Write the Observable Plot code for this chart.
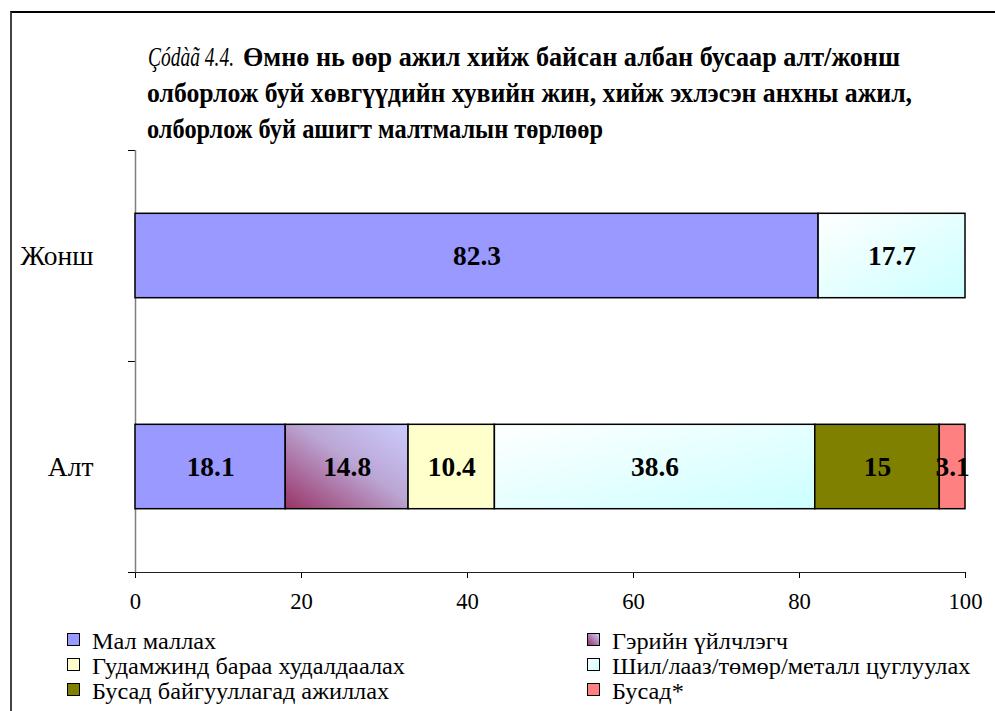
<!DOCTYPE html>
<html>
<head>
<meta charset="utf-8">
<script src="https://cdn.jsdelivr.net/npm/d3@7"></script>
<script src="https://cdn.jsdelivr.net/npm/@observablehq/plot@0.6"></script>
<style>
  html, body { margin: 0; padding: 0; background: #fff; }
  #wrap { position: relative; width: 995px; height: 711px; overflow: hidden; font-family: "Liberation Serif", serif; color: #000; }
  #frame { position: absolute; left: 10px; top: 11px; right: -5px; bottom: -5px; border-top: 2px solid #000; border-left: 2px solid #444; }
  .txt { position: absolute; white-space: nowrap; line-height: 1; display: inline-block; transform-origin: 0 50%; }
  #chart { position: absolute; left: 0; top: 0; }
  .sw { position: absolute; width: 11px; height: 11px; border: 1.5px solid #000; }
</style>
</head>
<body>
<div id="wrap">
  <div id="frame"></div>
  <div id="title"></div>
  <div id="chart"></div>
  <div id="legend"></div>
</div>
<script>
// ---- Data ----
const titleNumber = "Çódàã 4.4.";
const titleLines = [
  "Өмнө нь өөр ажил хийж байсан албан бусаар алт/жонш",
  "олборлож буй хөвгүүдийн хувийн жин, хийж эхлэсэн анхны ажил,",
  "олборлож буй ашигт малтмалын төрлөөр"
];
const categories = ["Алт", "Жонш"]; // bottom to top
const seriesNames = ["Мал маллах", "Гэрийн үйлчлэгч", "Гудамжинд бараа худалдаалах", "Шил/лааз/төмөр/металл цуглуулах", "Бусад байгууллагад ажиллах", "Бусад*"];
const altValues   = [18.1, 14.8, 10.4, 38.6, 15, 3.1];
const jonshValues = [82.3, 0, 0, 17.7, 0, 0];
const xTicks = [0, 20, 40, 60, 80, 100];

// ---- Styles ----
const seriesFills = ["#9999FF", "url(#gHome)", "#FFFFCC", "url(#gGlass)", "#808000", "#FF8080"];
const legendSwatch = ["#9999FF", "linear-gradient(45deg, #993366, #CCCCFF)", "#FFFFCC", "linear-gradient(135deg, #ffffff, #CCFFFF)", "#808000", "#FF8080"];
const FAM = '"Liberation Serif", serif';

const cv = document.createElement("canvas").getContext("2d");
function measure(txt, size, style = "normal", weight = "normal") {
  cv.font = `${style} ${weight} ${size}px ${FAM}`;
  return cv.measureText(txt).width;
}
function fit(txt, target, style = "normal", weight = "normal") {
  return 100 * target / measure(txt, 100, style, weight);
}
// Absolutely placed, horizontally condensed HTML text
function placeText(parent, txt, left, top, size, targetWidth, style = "normal", weight = "normal") {
  const s = document.createElement("span");
  s.className = "txt";
  s.textContent = txt;
  s.style.left = left + "px";
  s.style.top = top + "px";
  s.style.fontSize = size + "px";
  s.style.fontStyle = style;
  s.style.fontWeight = weight;
  s.style.fontFamily = FAM;
  const k = targetWidth / measure(txt, size, style, weight);
  s.style.transform = `scaleX(${k})`;
  parent.appendChild(s);
  return s;
}

// ---- Title ----
const titleEl = document.getElementById("title");
const TS = 27;
const titleTops = [44, 80, 116];
placeText(titleEl, titleNumber, 148, titleTops[0], TS, 86, "italic", "normal");
placeText(titleEl, titleLines[0], 243, titleTops[0], TS, 900 - 243, "normal", "bold");
placeText(titleEl, titleLines[1], 147, titleTops[1], TS, 912 - 147, "normal", "bold");
placeText(titleEl, titleLines[2], 147, titleTops[2], TS, 603 - 147, "normal", "bold");

// ---- Chart font sizes ----
const tickSize = fit("100", 34);
const catSize = d3.mean([fit("Жонш", 74), fit("Алт", 45)]);
const labSize = d3.mean([fit("38.6", 49, "normal", "bold"), fit("18.1", 47, "normal", "bold")]);

// ---- Stack rows ----
const rows = [];
[altValues, jonshValues].forEach((vals, ci) => {
  let acc = 0;
  vals.forEach((v, si) => {
    if (v > 0) rows.push({cat: categories[ci], idx: ci, series: seriesNames[si], fill: seriesFills[si], value: v, x1: acc, x2: acc + v});
    acc += v;
  });
});

const chart = Plot.plot({
  width: 995,
  height: 620,
  marginLeft: 135,
  marginRight: 30,
  marginTop: 150,
  marginBottom: 48,
  style: {fontFamily: FAM, fontSize: tickSize + "px", color: "#000", background: "transparent", overflow: "visible"},
  x: {domain: [0, 100], ticks: xTicks, tickSize: 6, tickPadding: 14, label: null},
  y: {domain: [0, 2], ticks: [0, 1, 2], tickSize: 7, tickFormat: () => "", label: null},
  color: {type: "identity"},
  marks: [
    Plot.ruleX([0], {stroke: "#808080", strokeWidth: 1.5}),
    Plot.ruleY([0], {stroke: "#222", strokeWidth: 1.2}),
    Plot.rectX(rows, {x1: "x1", x2: "x2", y1: d => d.idx + 0.3, y2: d => d.idx + 0.7, fill: "fill", stroke: "#000", strokeWidth: 1.5}),
    Plot.text(rows, {x: d => (d.x1 + d.x2) / 2, y: d => d.idx + 0.5, text: d => String(d.value), fontWeight: "bold", fontSize: labSize, fill: "#000"}),
    Plot.text(categories, {x: 0, y: (d, i) => i + 0.5, text: d => d, textAnchor: "end", dx: -42, fontSize: catSize, fill: "#000"})
  ]
});

const ns = "http://www.w3.org/2000/svg";
const defs = document.createElementNS(ns, "defs");
defs.innerHTML = `
  <linearGradient id="gHome" x1="0" y1="1" x2="1" y2="0">
    <stop offset="0" stop-color="#993366"/>
    <stop offset="0.55" stop-color="#BBA6D4"/>
    <stop offset="1" stop-color="#CCCCFF"/>
  </linearGradient>
  <linearGradient id="gGlass" x1="0" y1="0" x2="1" y2="1">
    <stop offset="0" stop-color="#FFFFFF"/>
    <stop offset="1" stop-color="#CCFFFF"/>
  </linearGradient>`;
chart.insertBefore(defs, chart.firstChild);
document.getElementById("chart").appendChild(chart);

// ---- Legend ----
const legend = document.getElementById("legend");
const LS = 24;
const legK = d3.mean([356 / measure(seriesNames[3], LS), 125 / measure(seriesNames[0], LS)]);
const swX = [67, 587];
const rowTops = [629, 654, 679];
seriesNames.forEach((name, i) => {
  const col = i % 2, row = Math.floor(i / 2);
  const sw = document.createElement("div");
  sw.className = "sw";
  sw.style.left = swX[col] + "px";
  sw.style.top = (rowTops[row] + 4) + "px";
  sw.style.background = legendSwatch[i];
  legend.appendChild(sw);
  placeText(legend, name, swX[col] + 25, rowTops[row], LS, measure(name, LS) * legK);
});
</script>
</body>
</html>
